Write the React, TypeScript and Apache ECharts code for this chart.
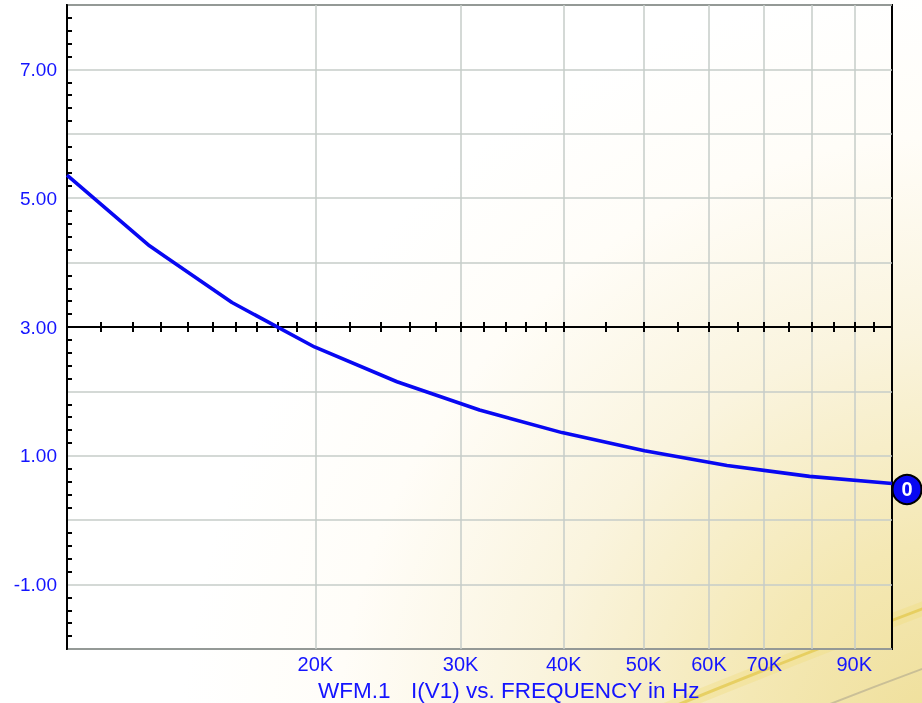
import React, { useEffect, useRef } from "react";
import * as echarts from "echarts";

// Frequency sweep (Hz) and I(V1) values
const freqs = [10000, 12589, 15849, 19953, 25119, 31623, 39811, 50119, 63096, 79433, 100000];
const currents = [5.36, 4.26, 3.38, 2.69, 2.15, 1.71, 1.36, 1.08, 0.85, 0.68, 0.57];

// Vertical grid lines and their labels (80K is unlabelled)
const gridFreqs = [20000, 30000, 40000, 50000, 60000, 70000, 80000, 90000];
const gridLabels = ["20K", "30K", "40K", "50K", "60K", "70K", "", "90K"];

// Minor ticks drawn on the Y = 3 reference line
const axisTickFreqs = [
  11000, 12000, 13000, 14000, 15000, 16000, 17000, 18000, 19000, 20000,
  22000, 24000, 26000, 28000, 30000, 32000, 34000, 36000, 38000, 40000,
  45000, 50000, 55000, 60000, 65000, 70000, 75000, 80000, 85000, 90000, 95000,
];
const refLevel = 3;
const yLabelValues = [7, 5, 3, 1, -1];

const BLUE = "#1414ff";
const FONT = "Liberation Sans, Arial, sans-serif";

export default function App() {
  const ref = useRef<HTMLDivElement>(null);

  useEffect(() => {
    if (!ref.current) return;
    const chart = echarts.init(ref.current, undefined, { renderer: "svg" });
    const lineData = freqs.map((f, i) => [f, currents[i]]);

    const gridLineData = gridFreqs.map((f, i) => ({
      name: gridLabels[i],
      xAxis: f,
      label: { show: gridLabels[i] !== "" },
    }));

    const tickData = axisTickFreqs.map((f) => [
      { coord: [f, refLevel - 0.078] },
      { coord: [f, refLevel + 0.078] },
    ]);

    chart.setOption({
      animation: false,
      backgroundColor: "transparent",
      grid: {
        left: 67,
        right: 30,
        top: 5,
        bottom: 54,
        show: true,
        borderColor: "#000",
        borderWidth: 2,
        backgroundColor: "transparent",
      },
      xAxis: {
        type: "log",
        logBase: 10,
        min: 10000,
        max: 100000,
        axisLine: { show: false },
        axisTick: { show: false },
        axisLabel: { show: false },
        splitLine: { show: false },
      },
      yAxis: {
        type: "value",
        min: -2,
        max: 8,
        interval: 1,
        axisLine: { show: true, lineStyle: { color: "#000", width: 2 } },
        axisTick: { show: false, inside: true },
        minorTick: {
          show: true,
          splitNumber: 5,
          length: 5,
          lineStyle: { color: "#000", width: 2 },
        },
        axisLabel: {
          color: BLUE,
          fontSize: 19,
          fontFamily: FONT,
          margin: 10,
          formatter: (v: number) =>
            yLabelValues.indexOf(v) >= 0 ? v.toFixed(2) : "",
        },
        splitLine: { show: true, lineStyle: { color: "#c6ccc9", width: 1.5 } },
      },
      series: [
        {
          type: "line",
          data: [],
          silent: true,
          z: 1,
          markLine: {
            silent: true,
            z: 1,
            symbol: ["none", "none"],
            lineStyle: { color: "#c6ccc9", width: 1.5, type: "solid" },
            label: {
              show: true,
              position: "start",
              distance: 5,
              formatter: "{b}",
              color: BLUE,
              fontSize: 20,
              fontFamily: FONT,
            },
            emphasis: { disabled: true },
            data: gridLineData,
          },
        },
        {
          type: "line",
          data: [],
          silent: true,
          z: 1,
          markLine: {
            silent: true,
            z: 1,
            symbol: ["none", "none"],
            lineStyle: { color: "#000", width: 2, type: "solid" },
            label: { show: false },
            emphasis: { disabled: true },
            data: [{ yAxis: refLevel }],
          },
        },
        {
          type: "line",
          data: [],
          silent: true,
          z: 1,
          markLine: {
            silent: true,
            z: 1,
            symbol: ["none", "none"],
            lineStyle: { color: "#000", width: 2, type: "solid" },
            label: { show: false },
            emphasis: { disabled: true },
            data: tickData,
          },
        },
        {
          type: "line",
          name: "I(V1)",
          data: lineData,
          z: 3,
          showSymbol: false,
          symbol: "none",
          lineStyle: { color: "#0808f2", width: 3.6 },
          markPoint: {
            silent: true,
            symbol: "circle",
            symbolSize: 29,
            symbolOffset: [15, 6],
            itemStyle: { color: "#0808f2", borderColor: "#000", borderWidth: 2 },
            label: {
              show: true,
              position: "inside",
              formatter: "0",
              color: "#fff",
              fontWeight: "bold",
              fontSize: 20,
              fontFamily: FONT,
            },
            data: [
              {
                coord: [freqs[freqs.length - 1], currents[currents.length - 1]],
                value: 0,
              },
            ],
          },
        },
      ],
      graphic: [
        {
          type: "text",
          left: 318,
          top: 679,
          style: { text: "WFM.1", fill: BLUE, font: `22.5px ${FONT}` },
        },
        {
          type: "text",
          left: 411,
          top: 679,
          style: {
            text: "I(V1) vs. FREQUENCY in Hz",
            fill: BLUE,
            font: `22.5px ${FONT}`,
          },
        },
      ],
    });
    return () => chart.dispose();
  }, []);

  return (
    <div style={{ position: "fixed", left: 0, top: 0, width: 922, height: 703 }}>
      <svg
        width={922}
        height={703}
        style={{ position: "absolute", left: 0, top: 0 }}
      >
        <defs>
          <radialGradient
            id="bgGrad"
            gradientUnits="userSpaceOnUse"
            cx={960}
            cy={760}
            r={780}
          >
            <stop offset="0" stopColor="#eedd94" />
            <stop offset="0.28" stopColor="#f4e8b4" />
            <stop offset="0.55" stopColor="#faf4de" />
            <stop offset="0.8" stopColor="#fffdf8" />
            <stop offset="1" stopColor="#ffffff" />
          </radialGradient>
          <clipPath id="outside">
            <path
              clipRule="evenodd"
              d="M0 0 H922 V703 H0 Z M67 5 H892 V649 H67 Z"
            />
          </clipPath>
        </defs>
        <rect x={0} y={0} width={922} height={703} fill="url(#bgGrad)" />
        <g clipPath="url(#outside)">
          <path
            d="M 660 712 Q 800 655 930 606"
            stroke="#f0dc7c"
            strokeWidth={14}
            fill="none"
            opacity={0.35}
          />
          <path
            d="M 660 712 Q 800 655 930 606"
            stroke="#e3c84e"
            strokeWidth={3}
            fill="none"
            opacity={0.75}
          />
          <path
            d="M 815 710 Q 870 688 930 666"
            stroke="#a9a38c"
            strokeWidth={2}
            fill="none"
            opacity={0.55}
          />
        </g>
      </svg>
      <div
        ref={ref}
        style={{ position: "absolute", left: 0, top: 0, width: 922, height: 703 }}
      />
    </div>
  );
}
